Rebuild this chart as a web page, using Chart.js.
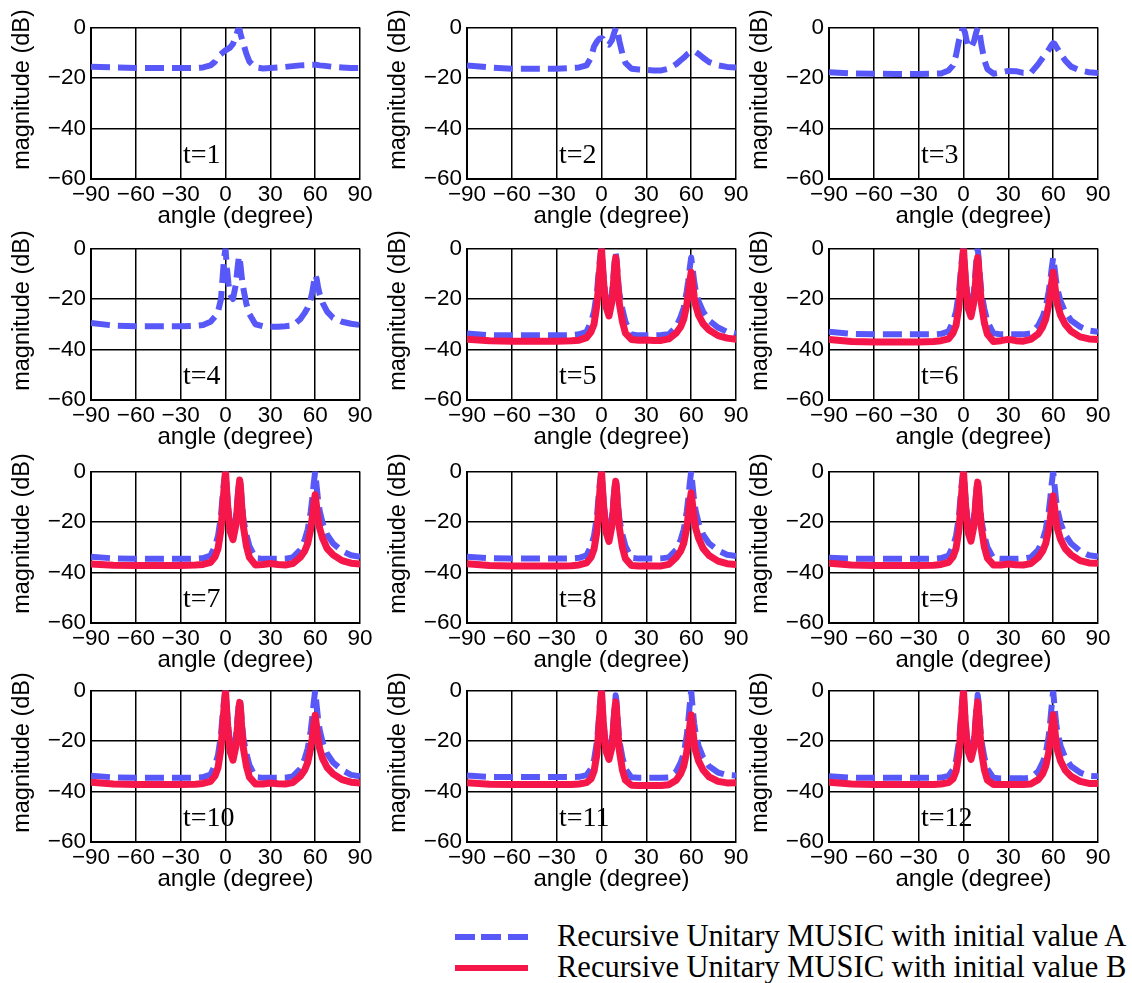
<!DOCTYPE html>
<html>
<head>
<meta charset="utf-8">
<script src="https://cdn.jsdelivr.net/npm/chart.js@4.4.1/dist/chart.umd.min.js"></script>
<style>
  html, body { margin: 0; padding: 0; background: #fff; }
  body { width: 1132px; height: 983px; position: relative; overflow: hidden; }
  canvas.panel { position: absolute; }
  .lg-sample { position: absolute; left: 455px; width: 73px; }
  .lg-text { position: absolute; left: 557px; font-family: "Liberation Serif", "Times New Roman", serif; font-size: 30.5px; line-height: 30px; color: #000; white-space: nowrap; }
</style>
</head>
<body>
<div class="lg-sample" style="top:934px;height:6px;background:repeating-linear-gradient(90deg,#5858f8 0 20px,transparent 20px 26.5px);"></div>
<div class="lg-text" style="top:921px;">Recursive Unitary MUSIC with initial value A</div>
<div class="lg-sample" style="top:965px;height:6px;background:#f5174a;"></div>
<div class="lg-text" style="top:952px;">Recursive Unitary MUSIC with initial value B</div>
<script>
// ---------- data ----------
const angles = [-90,-75,-60,-45,-30,-20,-15,-10,-7,-5,-3,-2,-1,
  0,1,2,3,5,7,8,9,9.5,10,11,12,14,16,20,
  25,30,35,40,45,50,53,55,57,58,59,
  60,61,62,63,65,68,72,78,84,90];

const xTicks = [-90,-60,-30,0,30,60,90];
const yTicks = [0,-20,-40,-60];
const panelLabels = ['t=1','t=2','t=3','t=4','t=5','t=6','t=7','t=8','t=9','t=10','t=11','t=12'];
const labelA = 'Recursive Unitary MUSIC with initial value A';
const labelB = 'Recursive Unitary MUSIC with initial value B';

const seriesA_t1 = [-15.5,-15.8,-16,-16,-16,-16,-15.8,-15,-13.5,-11.5,-10.5,-10,-9.5,
  -9,-8.7,-8.3,-8,-6.5,-3.5,-1.5,0,-1,-2.5,-4.5,-6.5,-10.5,-13.5,-15.8,
  -16.2,-16,-15.8,-15.6,-15.3,-15,-14.9,-14.8,-14.8,-14.8,-14.8,
  -14.8,-14.8,-14.9,-15,-15.1,-15.3,-15.6,-15.8,-16,-16];
const seriesA_t2 = [-15,-15.8,-16.3,-16.3,-16.3,-16,-15.8,-15,-12,-7.5,-5.5,-4.8,-4.3,
  -4.2,-4.5,-5.5,-6.3,-6.8,-5,-3,-1.2,-0.5,0,-2.5,-5.5,-10.5,-14,-16.3,
  -16.6,-16.8,-17,-17,-16.3,-14.5,-13,-12,-10.8,-10.3,-9.9,
  -9.6,-9.5,-9.5,-9.7,-10.5,-12,-13.7,-15,-15.6,-15.8];
const seriesA_t3 = [-17.7,-18.2,-18.3,-18.4,-18.4,-18.3,-18.2,-17,-15,-11,-5,-3,-1,
  -0.5,-2,-5,-7,-8,-5.5,-3,-1,-0.2,0,-3,-7,-13,-16.5,-18.3,
  -17.8,-17.2,-17.3,-18,-18,-14.5,-12,-10.5,-8.8,-7.8,-6.9,
  -6.2,-6.5,-7.5,-8.5,-10.5,-13,-15.5,-17,-17.7,-18];
const seriesA_t4 = [-29.5,-30.5,-30.8,-30.8,-30.8,-30.6,-30.3,-29,-27,-25,-20,-12,-4,
  0,-8,-14,-18,-20,-14,-8,-3,-4,-6.5,-12,-16,-22,-26,-30,
  -30.8,-31,-31,-30.8,-30.5,-28,-25.5,-23.5,-20,-17.5,-14,
  -10.5,-12,-15.5,-18,-21.5,-25,-27.5,-29,-29.8,-30.3];
const seriesA_t5 = [-33.7,-34.3,-34.4,-34.4,-34.4,-34.3,-34,-33,-29,-25,-17,-10,-4,
  0,-8,-15,-20,-24,-18,-11,-4,-1.7,-4,-12,-18,-24,-29,-34,
  -34.4,-34.4,-34.4,-34.3,-34,-31,-27,-23.5,-17,-13,-8,
  -3.6,-8,-13,-16.5,-21,-25,-28.5,-31.3,-33,-33.7];
const seriesB_t5 = [-35.9,-36.5,-36.7,-36.7,-36.7,-36.5,-36.3,-35.3,-33,-30,-22,-15,-7,
  0,-10,-18,-23,-26.7,-21,-14,-6,-3.6,-6,-15,-22,-29,-33.5,-36,
  -36.3,-36.2,-36.4,-36.4,-35.8,-33.5,-31,-28,-22.5,-18.5,-13.5,
  -9.4,-14,-19,-22.5,-26.5,-29.8,-32.3,-34.5,-35.5,-35.9];
const seriesA_t6 = [-33,-33.8,-34,-34,-34,-34,-33.8,-32.8,-29,-25,-17,-10,-4,
  0,-8,-15,-20,-24,-17,-9,-2,0,-3,-11,-17.5,-24,-29,-33.6,
  -34,-34,-34,-34,-33.6,-30.5,-27,-23.5,-17,-13,-8,
  -3.6,-8,-13,-16.5,-21,-25,-28.5,-31,-32.5,-33];
const seriesB_t6 = [-36,-36.8,-37,-37,-37,-36.8,-36.5,-35.8,-33.5,-30.5,-23,-15,-7,
  0,-10,-18,-23.5,-27,-21,-14,-6,-3.6,-6,-15,-22,-29.5,-34,-36.8,
  -36.5,-36,-36.5,-36.7,-36,-33.8,-31,-28,-22.5,-18.5,-13.5,
  -9.4,-14,-19,-22.5,-26.5,-30,-32.8,-35,-35.8,-36];
const seriesA_t7 = [-33.8,-34.4,-34.6,-34.6,-34.6,-34.5,-34.3,-33.3,-29.5,-25.5,-17.5,-10,-4,
  0,-8,-15,-20.5,-24.5,-18,-11,-5,-3.4,-5,-12.5,-19,-25,-29.5,-34.3,
  -34.6,-34.6,-34.6,-34.5,-34,-31,-27,-23,-16,-11,-5,
  0,-6,-11.5,-15.5,-20.5,-25,-28.5,-31.5,-33.2,-33.8];
const seriesB_t7 = [-36.6,-37.1,-37.2,-37.2,-37.2,-37,-36.8,-36,-33.8,-30.5,-23,-15,-7,
  0,-10,-18,-23.5,-27,-21,-13.5,-6,-3.4,-6,-15,-22,-29.5,-34,-37,
  -36.8,-36.4,-36.8,-37,-36.5,-34,-31.5,-28.5,-23,-18.5,-13.5,
  -9.2,-14,-19,-22.5,-26.5,-30.5,-33,-35.3,-36.3,-36.6];
const seriesA_t8 = [-33.8,-34.3,-34.5,-34.5,-34.5,-34.4,-34.2,-33.2,-29.5,-25.5,-17.5,-10,-4,
  0,-8,-15,-20.5,-24.5,-18,-11,-5,-3.2,-5,-12.5,-19,-25,-29.5,-34.2,
  -34.5,-34.5,-34.5,-34.4,-34,-31,-27,-23,-16,-11,-5,
  0,-6,-11.5,-15.5,-20.5,-25,-28.5,-31.3,-33,-33.5];
const seriesB_t8 = [-36.5,-37.2,-37.4,-37.4,-37.4,-37.3,-37,-36.2,-34,-30.8,-23.5,-15.5,-7,
  0,-10,-18.5,-24,-27.7,-21.5,-14,-6.5,-3.9,-6.5,-15.5,-22.5,-30,-34.5,-37.2,
  -37.4,-37.3,-37.4,-37.4,-36.8,-34,-31.5,-28.5,-22.5,-17.5,-12.5,
  -8.4,-13.5,-18.5,-22.5,-26.5,-30.5,-33.3,-35.5,-36.5,-36.8];
const seriesA_t9 = [-34.2,-34.5,-34.6,-34.6,-34.6,-34.5,-34.3,-33.3,-29.5,-25.5,-17.5,-10,-4,
  0,-8,-15,-20.5,-24.5,-18,-11.5,-5.5,-4.2,-5.5,-13,-19.5,-25.5,-30,-34.4,
  -34.6,-34.6,-34.6,-34.5,-34,-31,-27,-23,-16,-11,-5,
  0,-6,-11.5,-15.5,-20.5,-25,-28.5,-31.5,-33.2,-33.7];
const seriesB_t9 = [-36.3,-37,-37.2,-37.2,-37.2,-37.1,-36.8,-36,-33.8,-30.5,-23,-15,-7,
  0,-10,-18.5,-24,-27.6,-21.5,-14,-6.5,-4.2,-6.5,-15.5,-22.5,-30,-34.3,-37,
  -37,-36.6,-36.9,-37,-36.5,-34,-31.5,-28.5,-23,-19,-14,
  -9.6,-14.5,-19.5,-23,-27,-30.5,-33,-35.3,-36.2,-36.3];
const seriesA_t10 = [-33.8,-34.4,-34.6,-34.6,-34.6,-34.5,-34.3,-33.3,-29.5,-25.5,-17.5,-10,-4,
  0,-8,-15,-20.5,-24.5,-18,-11,-5,-3.4,-5,-12.5,-19,-25,-29.5,-34.3,
  -34.6,-34.6,-34.6,-34.5,-34,-31,-27,-23,-16,-11,-5,
  0,-6,-11.5,-15.5,-20.5,-25,-28.5,-31.5,-33.4,-34];
const seriesB_t10 = [-36.3,-37,-37.2,-37.2,-37.2,-37.1,-36.8,-36,-33.8,-30.5,-23,-15,-7,
  0,-10,-18.5,-24,-27.6,-22,-14.5,-7,-4.7,-7,-16,-23,-30,-34.3,-37,
  -37,-36.6,-36.9,-37,-36.5,-34,-31.5,-28.5,-23,-19,-14,
  -9.8,-14.5,-19.5,-23,-27,-30.5,-33,-35.3,-36.3,-36.6];
const seriesA_t11 = [-33.7,-34.2,-34.3,-34.3,-34.3,-34.3,-34.2,-33.5,-31,-27.5,-20,-13,-5,
  0,-9,-16.5,-21.5,-25,-19,-12,-5,-1.9,-4,-13,-20,-26.5,-31,-34.4,
  -34.6,-34.6,-34.6,-34.6,-34.4,-32,-28.5,-25,-18,-12.5,-6,
  0,-7,-13,-17,-22,-26.5,-30,-32.5,-33.5,-33.7];
const seriesB_t11 = [-36.5,-37.1,-37.2,-37.2,-37.2,-37.2,-37,-36.5,-35,-32,-25,-17,-8,
  0,-11,-19,-24,-27.3,-22.5,-15,-7,-4.5,-7,-16.5,-24,-31.5,-35.5,-37.5,
  -37.6,-37.6,-37.6,-37.6,-37.3,-35.5,-33,-30,-24.5,-20,-14.5,
  -9.6,-15,-20.5,-24,-28,-31.5,-34.2,-36,-36.6,-36.5];
const seriesA_t12 = [-34,-34.5,-34.6,-34.6,-34.6,-34.6,-34.5,-33.8,-31.3,-27.8,-20,-13,-5,
  0,-9,-16.5,-21.5,-25,-19,-12,-5,-1.7,-4,-13,-20,-26.5,-31,-34.6,
  -34.8,-34.8,-34.8,-34.8,-34.5,-32,-28.5,-25,-18,-12.5,-6,
  0,-7,-13,-17,-22,-26.5,-30,-32.5,-33.8,-34];
const seriesB_t12 = [-36.3,-37,-37.2,-37.2,-37.2,-37.2,-37,-36.5,-35,-32,-25,-17,-8,
  0,-11,-19,-24,-27.3,-22.5,-15,-7,-4.5,-7,-16.5,-24,-31.5,-35.5,-37.2,
  -37.2,-37.2,-37.2,-37.2,-37,-35.3,-33,-30,-24.5,-20,-14.5,
  -9.6,-15,-20.5,-24,-28,-31.5,-34,-36,-36.8,-36.8];

const seriesA = [seriesA_t1,seriesA_t2,seriesA_t3,seriesA_t4,seriesA_t5,seriesA_t6,
  seriesA_t7,seriesA_t8,seriesA_t9,seriesA_t10,seriesA_t11,seriesA_t12];
const seriesB = [null,null,null,null,seriesB_t5,seriesB_t6,
  seriesB_t7,seriesB_t8,seriesB_t9,seriesB_t10,seriesB_t11,seriesB_t12];

// ---------- layout / style ----------
const BLUE = '#5858f8';
const RED = '#f5174a';
const colLefts = [91, 467, 829];
const rowTops = [23, 244, 467, 686];
const PLOT_W = 269, PLOT_H = 156;
const AX_Y_W = 95, AX_X_H = 56, PAD_T = 14, PAD_R = 15;
const SANS = '"Liberation Sans", Arial, Helvetica, sans-serif';
const SERIF = '"Liberation Serif", "Times New Roman", serif';

const fmt = v => (v < 0 ? '\u2212' + Math.abs(v) : String(v));
const pts = vals => angles.map((a, i) => ({ x: a, y: vals[i] }));

const textPlugin = {
  id: 'panelText',
  afterDraw(chart) {
    const { ctx, chartArea: ca } = chart;
    const idx = chart.options.plugins.panelText.index;
    ctx.save();
    ctx.fillStyle = '#000';
    ctx.font = '24px ' + SANS;
    ctx.textAlign = 'center';
    ctx.textBaseline = 'middle';
    ctx.fillText('angle (degree)', (ca.left + ca.right) / 2 + 10, ca.bottom + 37);
    ctx.save();
    ctx.translate(ca.left - 68, ca.top + 62);
    ctx.rotate(-Math.PI / 2);
    ctx.font = '23.5px ' + SANS;
    ctx.fillText('magnitude (dB)', 0, 0);
    ctx.restore();
    ctx.font = '28px ' + SERIF;
    ctx.textAlign = 'left';
    ctx.textBaseline = 'alphabetic';
    ctx.fillText(panelLabels[idx], ca.left + 92, ca.top + 135);
    ctx.restore();
  }
};

for (let i = 0; i < 12; i++) {
  const row = Math.floor(i / 3), col = i % 3;
  const cv = document.createElement('canvas');
  cv.className = 'panel';
  const W = AX_Y_W + PLOT_W + PAD_R, H = PAD_T + PLOT_H + AX_X_H;
  cv.width = W; cv.height = H;
  cv.style.width = W + 'px'; cv.style.height = H + 'px';
  cv.style.left = (colLefts[col] - AX_Y_W) + 'px';
  cv.style.top = (rowTops[row] - PAD_T) + 'px';
  document.body.appendChild(cv);

  const datasets = [];
  if (seriesB[i]) {
    datasets.push({
      label: labelB, data: pts(seriesB[i]), borderColor: RED, backgroundColor: RED,
      borderWidth: 7, pointRadius: 0, tension: 0, fill: false, order: 1, clip: 0,
      borderJoinStyle: 'round', borderCapStyle: 'round'
    });
  }
  datasets.push({
    label: labelA, data: pts(seriesA[i]), borderColor: BLUE, backgroundColor: BLUE,
    borderWidth: 6, borderDash: [19, 8], pointRadius: 0, tension: 0, fill: false, order: 2, clip: 0,
    borderJoinStyle: 'round', borderCapStyle: 'butt'
  });

  new Chart(cv, {
    type: 'line',
    data: { datasets },
    options: {
      responsive: false, animation: false, events: [],
      layout: { padding: { top: PAD_T, right: PAD_R, left: 0, bottom: 0 } },
      plugins: { legend: { display: false }, tooltip: { enabled: false }, panelText: { index: i } },
      scales: {
        x: {
          type: 'linear', min: -90, max: 90,
          afterBuildTicks: s => { s.ticks = xTicks.map(v => ({ value: v })); },
          afterFit: s => { s.height = AX_X_H; },
          ticks: { color: '#000', font: { family: SANS, size: 22.5 }, padding: 2, maxRotation: 0, autoSkip: false, callback: v => fmt(v) },
          grid: { color: '#000', lineWidth: 1.5, drawTicks: false },
          border: { color: '#000', width: 2 }
        },
        y: {
          type: 'linear', min: -60, max: 0,
          afterBuildTicks: s => { s.ticks = yTicks.map(v => ({ value: v })); },
          afterFit: s => { s.width = AX_Y_W; },
          ticks: { color: '#000', font: { family: SANS, size: 22.5 }, padding: 5, autoSkip: false, callback: v => fmt(v) },
          grid: { color: '#000', lineWidth: 1.5, drawTicks: false },
          border: { color: '#000', width: 2 }
        }
      }
    },
    plugins: [textPlugin]
  });
}
</script>
</body>
</html>
